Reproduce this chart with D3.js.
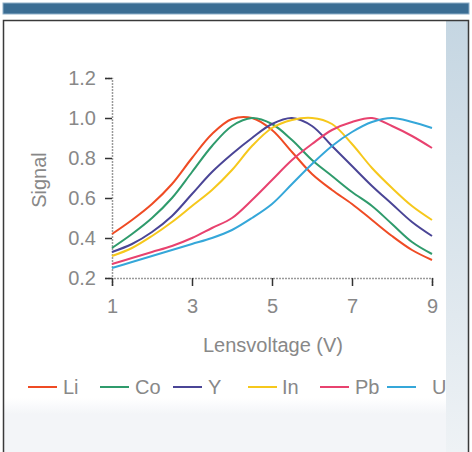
<!DOCTYPE html>
<html><head><meta charset="utf-8">
<script src="https://cdn.jsdelivr.net/npm/d3@7"></script>
<style>html,body{margin:0;padding:0;background:#fff;}svg{display:block;}</style>
</head><body>
<script>
const xValues = [1,1.5,2,2.5,3,3.5,4,4.5,5,5.5,6,6.5,7,7.5,8,8.5,9];
const seriesNames = ["Li","Co","Y","In","Pb","U"];
const liValues = [0.42,0.49,0.57,0.67,0.80,0.92,0.995,1.0,0.94,0.83,0.72,0.64,0.57,0.49,0.41,0.34,0.29];
const coValues = [0.35,0.42,0.50,0.60,0.73,0.86,0.96,1.0,0.97,0.89,0.79,0.71,0.63,0.56,0.47,0.38,0.32];
const yValues  = [0.33,0.37,0.43,0.51,0.62,0.73,0.82,0.90,0.97,1.0,0.96,0.86,0.76,0.66,0.57,0.48,0.41];
const inValues = [0.31,0.35,0.41,0.48,0.56,0.64,0.74,0.86,0.95,0.99,1.0,0.97,0.87,0.75,0.65,0.56,0.49];
const pbValues = [0.27,0.30,0.33,0.36,0.40,0.45,0.50,0.59,0.69,0.79,0.87,0.94,0.98,1.0,0.96,0.91,0.85];
const uValues  = [0.25,0.28,0.31,0.34,0.37,0.40,0.44,0.50,0.57,0.67,0.77,0.86,0.93,0.98,1.0,0.98,0.95];
const seriesColors = ["#ef4b24","#2f9b6c","#4a4596","#f6c81c","#e8426f","#35a7d9"];
const xTicks = [1,3,5,7,9];
const yTicks = [0.2,0.4,0.6,0.8,1.0,1.2];

const allValues = [liValues,coValues,yValues,inValues,pbValues,uValues];
const W=472,H=452;
const svg=d3.select("body").append("svg").attr("width",W).attr("height",H);
const defs=svg.append("defs");
const g1=defs.append("linearGradient").attr("id","strip").attr("x1",0).attr("y1",0).attr("x2",0).attr("y2",1);
g1.append("stop").attr("offset","0%").attr("stop-color","#c5d6e2");
g1.append("stop").attr("offset","100%").attr("stop-color","#eef2f5");
const g2=defs.append("linearGradient").attr("id","bottom").attr("x1",0).attr("y1",0).attr("x2",0).attr("y2",1);
g2.append("stop").attr("offset","0%").attr("stop-color","#ffffff");
g2.append("stop").attr("offset","30%").attr("stop-color","#f3f5f8");
g2.append("stop").attr("offset","100%").attr("stop-color","#f3f5f8");

// top bar
svg.append("rect").attr("x",3).attr("y",3).attr("width",466).attr("height",11)
  .attr("fill","#3b6d93").attr("stroke","#8fb0c8").attr("stroke-width",1);
// bottom panel
svg.append("rect").attr("x",4).attr("y",398).attr("width",442).attr("height",54).attr("fill","url(#bottom)");
// right strip
svg.append("rect").attr("x",446).attr("y",21).attr("width",22).attr("height",431).attr("fill","url(#strip)");
// frame
svg.append("path").attr("d","M3.5,452 V20.5 H468.5 V452").attr("fill","none").attr("stroke","#3a3a3a").attr("stroke-width",1.5);

const x=d3.scaleLinear().domain([1,9]).range([112,432]);
const y=d3.scaleLinear().domain([0.2,1.2]).range([278,78]);
const font="'Liberation Sans', Arial, sans-serif";
const txtCol="#888888";
const fs=20;

// y axis
const ya=svg.append("g").attr("transform","translate(112,0)")
  .call(d3.axisLeft(y).tickValues(yTicks).tickFormat(d3.format(".1f")).tickSize(7).tickPadding(9));
ya.select(".domain").attr("stroke","#9a9a9a").attr("stroke-width",1.5).attr("stroke-dasharray","2,1");
ya.selectAll(".tick line").attr("stroke","#333").attr("stroke-width",1.5);
ya.selectAll(".tick text").attr("fill",txtCol).attr("font-family",font).attr("font-size",fs);

// x axis
const xa=svg.append("g").attr("transform","translate(0,278)")
  .call(d3.axisBottom(x).tickValues(xTicks).tickFormat(d3.format("d")).tickSize(8).tickPadding(13));
xa.select(".domain").attr("stroke","#9a9a9a").attr("stroke-width",1.5).attr("stroke-dasharray","2,1");
xa.selectAll(".tick line").attr("stroke","#333").attr("stroke-width",1.5);
xa.selectAll(".tick text").attr("fill",txtCol).attr("font-family",font).attr("font-size",fs);

// axis titles
svg.append("text").attr("x",273).attr("y",352).attr("text-anchor","middle")
  .attr("fill",txtCol).attr("font-family",font).attr("font-size",fs).text("Lensvoltage (V)");
svg.append("text").attr("transform","translate(46,180) rotate(-90)").attr("text-anchor","middle")
  .attr("fill",txtCol).attr("font-family",font).attr("font-size",fs).text("Signal");

// lines
const line=d3.line().x((d,i)=>x(xValues[i])).y(d=>y(d)).curve(d3.curveCatmullRom.alpha(0.5));
allValues.forEach((vals,k)=>{
  svg.append("path").datum(vals).attr("d",line).attr("fill","none")
    .attr("stroke",seriesColors[k]).attr("stroke-width",2);
});

// legend
const legX=[28,100,173,248,320,387];
const legTX=[63,135,208,282,355,432];
const legY=387;
seriesNames.forEach((n,k)=>{
  svg.append("line").attr("x1",legX[k]).attr("x2",legX[k]+29).attr("y1",legY).attr("y2",legY)
    .attr("stroke",seriesColors[k]).attr("stroke-width",2);
  svg.append("text").attr("x",legTX[k]).attr("y",legY+7).attr("fill",txtCol)
    .attr("font-family",font).attr("font-size",fs).text(n);
});
</script>
</body></html>
